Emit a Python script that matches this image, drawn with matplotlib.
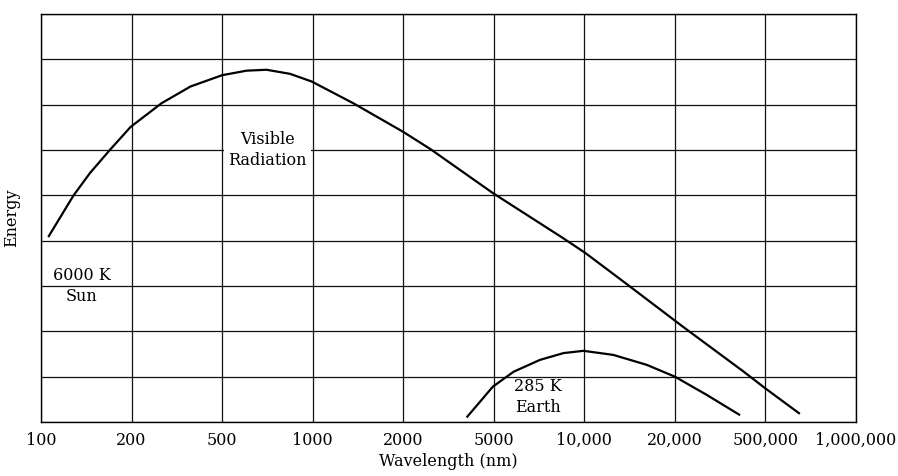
import matplotlib.pyplot as plt

# Wavelength ticks, evenly spaced columns
tick_labels = ["100", "200", "500", "1000", "2000", "5000",
               "10,000", "20,000", "500,000", "1,000,000"]

# Sun (6000 K) curve, positions in grid units
sun_x = [0.08, 0.36, 0.54, 0.76, 0.99, 1.33, 1.65, 2.0, 2.27, 2.49, 2.75,
         2.99, 3.45, 4.0, 4.30, 4.99, 5.77, 6.01, 6.45, 7.09, 7.76, 8.0, 8.38]
sun_y = [4.08, 5.0, 5.49, 6.0, 6.51, 7.03, 7.40, 7.65, 7.75, 7.77, 7.68,
         7.51, 7.03, 6.40, 6.02, 5.05, 4.05, 3.73, 3.07, 2.10, 1.11, 0.74, 0.18]

# Earth (285 K) curve
earth_x = [4.70, 4.99, 5.22, 5.51, 5.77, 5.99, 6.32, 6.69, 7.0, 7.35, 7.72]
earth_y = [0.10, 0.78, 1.11, 1.37, 1.52, 1.57, 1.48, 1.26, 1.0, 0.60, 0.15]

plt.rcParams['font.family'] = ['DejaVu Serif']
fs = 11.5

fig = plt.figure(figsize=(8.98, 4.76), dpi=100)
ax = fig.add_axes([41 / 898, 54 / 476, 815 / 898, 408 / 476])

ax.plot(sun_x, sun_y, color='black', linewidth=1.6, solid_capstyle='butt')
ax.plot(earth_x, earth_y, color='black', linewidth=1.6, solid_capstyle='butt')

ax.set_xlim(0, 9)
ax.set_ylim(0, 9)
ax.set_xticks(range(len(tick_labels)))
ax.set_xticklabels(tick_labels, fontsize=fs)
ax.set_yticks(range(10))
ax.set_yticklabels([])
ax.tick_params(length=0, pad=7)
ax.grid(True, color='#111111', linewidth=0.9)
for s in ax.spines.values():
    s.set_linewidth(1.0)

# label sits over the grid line inside its cell
ax.text(2.5, 6.0, "Visible\nRadiation", ha='center', va='center',
        fontsize=fs, linespacing=1.25,
        bbox=dict(facecolor='white', edgecolor='none', pad=3))
ax.text(0.45, 3.0, "6000 K\nSun", ha='center', va='center',
        fontsize=fs, linespacing=1.35)
ax.text(5.49, 0.55, "285 K\nEarth", ha='center', va='center',
        fontsize=fs, linespacing=1.25)

ax.set_xlabel("Wavelength (nm)", fontsize=fs, labelpad=3)
ax.set_ylabel("Energy", fontsize=fs, labelpad=8)

fig.savefig("out.png", dpi=100)
